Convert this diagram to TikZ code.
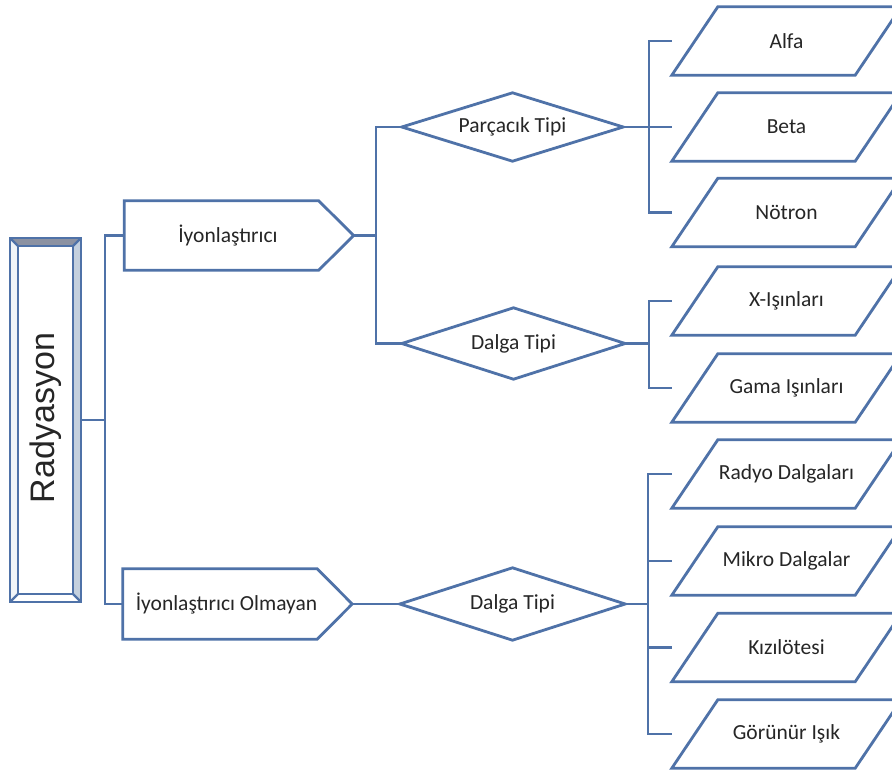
\documentclass[tikz,border=0pt]{standalone}
\usepackage{fontspec}
\setmainfont{Carlito}
\newfontfamily\radfont{Liberation Sans}
\definecolor{lb}{RGB}{79,114,168}
\definecolor{tx}{RGB}{38,38,38}
\definecolor{bevtop}{RGB}{140,146,162}
\definecolor{bevright}{RGB}{196,208,222}
\definecolor{bevleft}{RGB}{240,244,248}
\begin{document}
\begin{tikzpicture}[x=1pt,y=-1pt,
  conn/.style={draw=lb, line width=2.8pt},
  shp/.style={draw=lb, line width=2.8pt, line join=miter},
  bev/.style={draw=lb, line width=2.2pt, line join=miter},
  lbl/.style={inner sep=0pt, font=\fontsize{21.5}{24}\selectfont, text=tx},
  para/.style={lbl, minimum width=229pt, minimum height=68pt},
  penta/.style={lbl, minimum width=229pt, minimum height=70pt},
  dia/.style={lbl, minimum width=223pt, minimum height=70pt}]
\fill[white] (0,0) rectangle (892,769);
\useasboundingbox (0,0) rectangle (892,769);

% nodes
\node[inner sep=0pt, minimum width=71pt, minimum height=364pt] (rad) at (45.5,420) {};
\node[rotate=90, inner sep=0pt, text=tx, font=\radfont\fontsize{34}{38}\selectfont] (radtext) at (46,418) {Radyasyon};

\node[penta, minimum height=69pt] (iyon) at (239,235.5) {\hspace*{-22pt}İyonlaştırıcı};
\node[penta] (iyono) at (237.5,604) {\hspace*{-22pt}İyonlaştırıcı Olmayan};

\node[dia, minimum width=221pt, minimum height=68pt] (pt) at (512.5,127) {Parçacık Tipi};
\node[dia, minimum height=71pt] (dt1) at (513.5,343.5) {Dalga Tipi};
\node[dia, minimum width=225pt, minimum height=72pt] (dt2) at (512.5,604) {Dalga Tipi};

\node[para] (alfa) at (786.5,41) {Alfa};
\node[para] (beta) at (786.5,127) {Beta};
\node[para] (notron) at (786.5,212.5) {Nötron};
\node[para] (xray) at (786.5,301) {X-Işınları};
\node[para] (gama) at (786.5,388) {Gama Işınları};
\node[para] (radyo) at (786.5,474) {Radyo Dalgaları};
\node[para] (mikro) at (786.5,561) {Mikro Dalgalar};
\node[para] (kizil) at (786.5,647.5) {Kızılötesi};
\node[para] (gorunur) at (786.5,734) {Görünür Işık};

\coordinate (sp1) at (105,420);
\coordinate (j1) at (376,235.5);
\coordinate (v1) at (649,127);
\coordinate (v2) at (649,343.5);
\coordinate (v3) at (648,604);

\begin{scope}
\clip (0,0) rectangle (892,769);
% bevel box
\coordinate (onw) at (rad.north west);
\coordinate (one) at (rad.north east);
\coordinate (osw) at (rad.south west);
\coordinate (ose) at (rad.south east);
\coordinate (inw) at ([shift={(8pt,-8pt)}]rad.north west);
\coordinate (ine) at ([shift={(-8pt,-8pt)}]rad.north east);
\coordinate (isw) at ([shift={(8pt,8pt)}]rad.south west);
\coordinate (ise) at ([shift={(-8pt,8pt)}]rad.south east);
\fill[bevtop] (onw) -- (one) -- (ine) -- (inw) -- cycle;
\fill[bevright] (one) -- (ose) -- (ise) -- (ine) -- cycle;
\fill[bevleft] (onw) -- (inw) -- (isw) -- (osw) -- cycle;
\draw[bev] (onw) rectangle (ose);
\draw[bev] (inw) rectangle (ise);
\draw[bev] (onw) -- (inw) (one) -- (ine) (osw) -- (isw) (ose) -- (ise);

% pentagons
\foreach \n in {iyon,iyono}
  \draw[shp] (\n.south west) -- (\n.north west) -- ([xshift=-35pt]\n.north east)
    -- (\n.east) -- ([xshift=-35pt]\n.south east) -- cycle;
% diamonds
\foreach \n in {pt,dt1,dt2}
  \draw[shp] (\n.west) -- (\n.north) -- (\n.east) -- (\n.south) -- cycle;
% parallelograms
\foreach \n in {alfa,beta,notron,xray,gama,radyo,mikro,kizil,gorunur}
  \draw[shp] (\n.south west) -- ([xshift=46pt]\n.north west) -- (\n.north east)
    -- ([xshift=-46pt]\n.south east) -- cycle;

% connectors
\draw[conn] (rad.east) -- (sp1);
\draw[conn] (iyon.west) -| (sp1) |- (iyono.west);
\draw[conn] (iyon.east) -- (j1);
\draw[conn] (pt.west) -| (j1) |- (dt1.west);
\draw[conn] (pt.east) -- (beta.west);
\draw[conn] (alfa.west) -| (v1) |- (notron.west);
\draw[conn] (dt1.east) -- (v2);
\draw[conn] (xray.west) -| (v2) |- (gama.west);
\draw[conn] (iyono.east) -- (dt2.west);
\draw[conn] (dt2.east) -- (v3);
\draw[conn] (radyo.west) -| (v3) |- (gorunur.west);
\draw[conn] (mikro.west) -- (mikro.west -| v3);
\draw[conn] (kizil.west) -- (kizil.west -| v3);
\end{scope}
\end{tikzpicture}
\end{document}
